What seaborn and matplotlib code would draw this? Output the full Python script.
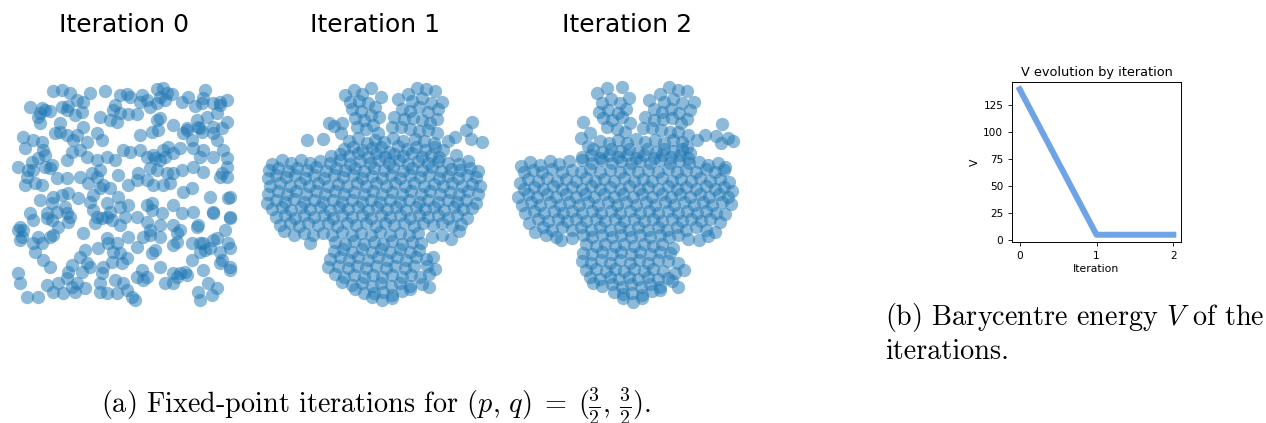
import matplotlib
matplotlib.use("Agg")
import matplotlib.pyplot as plt
import seaborn as sns
import pandas as pd

# ---------------- data (in crop pixel units) ----------------
iteration_titles = ["Iteration 0", "Iteration 1", "Iteration 2"]

it0_pts = [
(160,62),(185,60),(210,70),(315,62),(360,75),(380,72),(425,75),(470,58),(490,55),(500,70),(515,72),(565,80),(615,60),(660,95),(680,90),
(90,112),(125,115),(150,122),(185,112),(205,108),(250,95),(270,70),(300,140),(340,120),(360,130),(385,132),(410,132),(420,95),(440,90),(470,100),(495,90),(545,95),(585,108),(605,100),(640,100),(660,105),(115,140),(120,160),(180,160),(225,135),(245,125),(330,150),(350,155),(480,145),(455,185),(520,165),(560,175),(590,150),(600,175),(620,140),(650,130),(680,155),
(70,200),(75,235),(100,210),(125,215),(130,240),(165,190),(200,195),(230,195),(260,215),(290,190),(305,210),(420,195),(475,180),(560,180),(575,210),(605,185),(640,190),(650,210),(670,240),(610,240),(580,235),(540,235),(505,230),
(55,290),(95,275),(100,300),(135,290),(150,295),(155,285),(200,270),(215,245),(240,240),(260,260),(290,270),(320,260),(345,270),(370,240),(390,245),(420,240),(440,260),(460,255),(480,270),(495,260),(520,250),(600,260),(640,260),(680,265),(680,290),(660,320),(450,295),(470,300),(500,310),(520,310),(545,300),(580,290),(610,305),(665,310),
(75,345),(80,320),(105,340),(125,345),(170,325),(200,325),(240,320),(265,340),(290,320),(310,345),(330,355),(355,315),(385,345),(410,330),(440,330),(460,345),(490,345),(510,340),(550,365),(575,355),(415,310),
(120,390),(155,400),(160,380),(185,375),(205,370),(235,385),(270,395),(280,375),(300,355),(320,400),(355,380),(360,410),(385,405),(440,405),(455,400),(485,430),(520,405),(545,430),(580,425),(630,380),(685,385),(640,425),(690,440),(170,425),(195,410),
(60,470),(70,480),(90,430),(100,450),(140,445),(155,450),(175,470),(200,430),(210,440),(250,490),(285,460),(305,445),(320,440),(335,450),(360,465),(375,440),(410,440),(440,455),(450,480),(480,465),(530,490),(540,480),(595,465),(640,430),(675,480),(690,445),
(60,510),(100,520),(105,545),(125,520),(160,495),(150,500),(255,540),(295,535),(320,505),(350,520),(360,550),(385,500),(410,530),(430,500),(455,550),(465,540),(520,525),(530,515),(575,520),(600,520),(615,540),(630,535),(650,505),(685,520),(690,535),
(130,570),(150,590),(205,605),(215,585),(245,605),(270,590),(305,610),(335,575),(365,580),(380,565),(410,620),(440,620),(480,590),(520,610),(540,610),(560,615),(575,570),(610,600),(665,570),(690,590),(55,610),
(60,640),(80,680),(115,680),(140,645),(160,665),(190,670),(200,625),(215,650),(225,665),(255,655),(300,665),(320,670),(345,630),(370,640),(380,660),(395,680),(405,690),(350,670),(430,630),(495,640),(520,640),(530,620),(595,665),(600,690),(625,640),(635,675),(650,655),(690,600),
(120,130),(135,120),(200,120),(230,90),(390,80),(480,80),(610,85),(640,170),(665,175),(680,320),(690,380),(55,480),(65,500),(140,430),(205,455),(330,425),(455,420),(450,495),(480,500),(520,465),(590,470),(610,520),(640,510),(660,545),(600,545),
(275,310),(300,300),(135,255),(115,265),(85,300),(280,420),(290,440),(325,520),(340,545),(425,600),(555,605),(660,580),(175,640),(230,640),(300,640),(310,590),(240,560),(260,580),(115,500),(465,265),(490,240),(550,190),(595,170),(470,150),(450,110),(345,105),(180,185),(220,210),(250,170),
]

it1_pts = [
(270,75),(296,60),(322,72),(347,55),(378,80),(285,95),(312,92),(338,100),(360,112),(290,118),(318,122),(348,135),(372,140),(300,145),(328,150),(355,165),(305,170),(332,178),(368,188),(262,160),(238,168),
(430,88),(458,72),(487,55),(512,58),(540,63),(560,95),(470,92),(500,85),(528,98),(548,118),(440,118),(465,122),(492,112),(520,126),(545,148),(418,142),(446,148),(474,145),(500,150),(526,160),(412,170),(438,172),(466,178),(492,182),(520,180),(545,188),
(650,155),(632,180),(648,208),(680,215),(600,200),(578,212),(603,255),
(155,210),(205,208),(222,160),(258,190),
(282,212),(308,205),(335,218),(360,210),(388,215),(415,205),(445,212),(480,208),(508,212),(538,220),
(268,238),(295,232),(322,240),(350,235),(378,232),(402,245),(428,228),(455,238),(482,232),(510,240),(540,232),(565,240),
(228,258),(255,252),(282,258),(310,250),(338,260),(362,250),(390,262),(418,252),(445,258),(472,250),(500,262),(528,255),(552,262),
(52,282),(80,270),(108,279),(138,271),(166,280),(196,272),(226,278),(256,270),(286,281),(314,272),(344,280),(372,271),(402,279),(432,270),(460,281),(490,273),(518,280),(548,272),(580,278),(612,283),(640,274),
(42,300),(70,294),(98,302),(126,293),(156,300),(184,292),(212,303),(242,295),(270,301),(300,293),(328,302),(358,294),(386,300),(414,292),(444,302),(472,295),(500,300),(530,292),(558,303),(588,296),(616,301),(644,294),(668,304),
(38,324),(64,316),(92,322),(120,314),(150,323),(178,316),(206,324),(236,316),(264,322),(294,315),(322,324),(350,317),(380,323),(408,315),(436,324),(466,316),(494,322),(522,315),(552,324),(580,317),(608,323),(636,315),(662,322),
(46,348),(76,340),(104,347),(134,339),(162,347),(190,340),(220,348),(248,341),(276,348),(306,340),(334,347),(364,339),(392,348),(420,340),(450,347),(478,340),(506,348),(536,341),(564,347),(592,340),(622,348),(650,341),(676,349),
(40,372),(68,364),(96,372),(124,364),(154,371),(182,364),(210,372),(240,364),(268,372),(296,365),(326,372),(354,364),(382,372),(412,365),(440,372),(468,364),(498,371),(526,364),(554,372),(584,365),(612,372),(640,364),(668,372),
(36,398),(62,390),(90,396),(118,388),(148,396),(176,390),(204,397),(234,389),(262,396),(290,390),(320,397),(348,389),(376,396),(406,390),(434,397),(462,389),(492,396),(520,390),(548,397),(578,389),(606,396),(634,390),(662,398),
(52,418),(80,412),(108,419),(138,411),(166,418),(194,412),(224,419),(252,411),(280,418),(310,412),(338,419),(366,411),(396,418),(424,412),(452,419),(482,411),(510,418),(538,412),(568,419),(596,411),(624,418),(652,414),
(62,442),(90,436),(120,443),(148,435),(176,442),(206,436),(234,443),(262,435),(292,442),(320,436),(348,443),(378,435),(406,442),(434,436),(464,443),(492,435),(520,442),(550,436),(578,443),(606,436),(636,444),
(74,466),(104,460),(132,467),(160,459),(190,466),(218,460),(246,467),(276,459),(304,466),(332,460),(362,467),(390,459),(418,466),(448,460),(476,467),(504,459),(534,466),(562,460),(590,467),(618,462),
(88,484),(118,494),(146,488),(174,496),(204,488),(232,494),(262,487),(290,494),(318,488),(348,494),(376,487),(404,494),(434,488),(462,494),(490,488),(530,502),(560,494),(588,506),(612,482),
(165,518),(240,516),(270,522),(298,514),(326,522),(356,515),(384,522),(412,514),(442,522),(470,515),(498,520),
(236,542),(264,538),(292,545),(320,538),(350,545),(378,538),(406,545),(436,538),(464,545),(492,540),
(226,568),(254,562),(282,569),(310,562),(340,569),(368,562),(396,569),(426,562),(454,569),(482,562),(512,566),(535,560),
(220,592),(248,588),(278,595),(306,588),(334,595),(364,588),(392,595),(420,588),(450,595),(478,588),(515,588),(540,598),
(240,612),(268,620),(296,614),(326,621),(354,614),(382,621),(412,614),(440,621),(468,614),(496,620),(522,612),
(262,636),(292,645),(320,640),(350,648),(378,640),(408,648),(436,640),(464,648),(500,642),(522,650),
(300,658),(328,668),(356,670),(384,666),(412,676),(440,662),(466,656),
(380,690),(410,684),(350,680),
]

it2_pts = [
(275,70),(305,55),(350,52),(372,85),(290,100),(318,88),(345,98),(282,125),(310,120),(338,128),(362,118),(295,145),(322,150),(350,142),(375,160),(306,172),(335,176),(360,185),(235,155),(228,205),(255,190),(248,228),
(432,90),(465,72),(492,52),(518,60),(545,62),(568,95),(478,95),(505,88),(530,100),(555,120),(448,118),(470,125),(498,118),(522,130),(546,148),(420,142),(446,150),(474,148),(502,145),(528,160),(415,175),(440,175),(468,180),(495,185),(520,185),(548,195),(545,230),
(650,162),(600,195),(575,210),(632,198),(648,218),(685,212),(668,205),
(285,212),(312,218),(338,210),(365,218),(392,208),(420,215),(450,210),(478,218),(505,210),(530,215),
(265,238),(292,245),(318,236),(345,244),(372,236),(398,246),(425,238),(452,246),(478,236),(505,244),(532,238),(555,250),
(232,262),(258,256),(285,264),(312,256),(338,262),(365,256),(392,264),(418,256),(446,264),(472,256),(498,262),(525,256),(550,264),
(48,288),(76,276),(104,284),(134,272),(162,281),(192,273),(232,270),(262,279),(290,271),(320,280),(348,272),(378,280),(406,272),(436,280),(464,271),(494,279),(522,272),(552,280),(582,276),(610,284),(640,278),(660,292),
(56,306),(84,299),(112,306),(142,298),(170,306),(200,299),(228,306),(256,298),(286,306),(314,299),(344,306),(372,298),(400,306),(430,299),(458,306),(488,298),(516,306),(544,299),(574,306),(602,298),(630,306),(658,300),
(44,338),(70,326),(98,333),(126,325),(156,333),(184,326),(212,333),(242,325),(270,333),(298,326),(328,333),(356,325),(386,333),(414,326),(442,333),(472,325),(500,333),(528,326),(558,333),(586,325),(614,333),(644,326),(672,336),
(58,356),(86,350),(114,357),(144,349),(172,356),(200,350),(230,357),(258,349),(286,356),(316,350),(344,357),(372,349),(402,356),(430,350),(458,357),(488,349),(516,356),(544,350),(574,357),(602,349),(630,356),(658,350),(680,362),
(40,380),(68,373),(96,380),(126,372),(154,380),(182,373),(212,380),(240,372),(268,380),(298,373),(326,380),(354,372),(384,380),(412,373),(440,380),(470,372),(498,380),(526,373),(556,380),(584,372),(612,380),(642,373),(668,382),
(50,404),(78,397),(106,404),(136,396),(164,404),(192,397),(222,404),(250,396),(278,404),(308,397),(336,404),(364,396),(394,404),(422,397),(450,404),(480,396),(508,404),(536,397),(566,404),(594,396),(622,404),(652,397),(678,402),
(60,430),(88,423),(116,430),(146,422),(174,430),(202,423),(232,430),(260,422),(288,430),(318,423),(346,430),(374,422),(404,430),(432,423),(460,430),(490,422),(518,430),(546,423),(576,430),(604,422),(632,430),(660,432),
(72,458),(100,447),(128,454),(158,446),(186,454),(214,447),(244,454),(272,446),(300,454),(330,447),(358,454),(386,446),(416,454),(444,447),(472,454),(502,446),(530,454),(558,447),(588,454),(616,447),(644,456),
(90,486),(114,472),(142,479),(172,471),(200,479),(228,472),(258,479),(286,471),(314,479),(344,472),(372,479),(400,471),(430,479),(458,472),(486,479),(516,471),(544,479),(572,472),(602,479),(630,485),
(122,494),(152,500),(168,510),(200,505),(234,496),(262,502),(292,495),(320,502),(348,495),(378,502),(406,495),(434,502),(464,495),(492,500),(520,496),(550,506),(582,510),(608,498),
(244,522),(272,528),(300,521),(330,528),(358,521),(386,528),(416,521),(444,528),(472,521),(505,535),
(234,548),(262,552),(292,546),(320,553),(348,546),(378,553),(406,546),(434,553),(464,546),(494,550),
(230,572),(258,578),(288,571),(316,578),(344,571),(374,578),(402,571),(430,578),(460,571),(490,574),(518,580),
(244,600),(272,596),(302,603),(330,596),(358,603),(388,596),(416,603),(444,596),(474,603),(510,610),(538,600),
(256,622),(286,628),(314,622),(342,628),(372,622),(400,628),(428,622),(458,628),(488,624),
(264,640),(292,648),(322,642),(350,650),(378,642),(408,650),(436,642),(466,650),(500,634),(520,652),
(326,666),(354,672),(382,668),(412,674),(440,664),(464,660),
(385,695),(412,684),(355,684),
]

iterations = [0, 1, 2]
V_values = [140, 5, 5]
y_ticks = [0, 25, 50, 75, 100, 125]

caption_a = r"(a) Fixed-point iterations for $(p,\, q) \;=\; (\frac{3}{2},\, \frac{3}{2})$."
caption_b1 = r"(b) Barycentre energy $V$ of the"
caption_b2 = "iterations."

# ---------------- figure ----------------
plt.rcParams["mathtext.fontset"] = "cm"
plt.rcParams["axes.unicode_minus"] = False
W, H = 1266, 423
fig = plt.figure(figsize=(W / 100, H / 100), dpi=100)
fig.patch.set_facecolor("white")

def px_axes(left, top, w, h):
    return fig.add_axes([left / W, 1 - (top + h) / H, w / W, h / H])

panel_boxes = [(0, 70, 250, 750), (255, 70, 245, 735), (505, 70, 245, 735)]
all_pts = [it0_pts, it1_pts, it2_pts]
title_x = [124, 375, 627]

for pts, (l, t, size, lim), title, tx in zip(all_pts, panel_boxes, iteration_titles, title_x):
    ax = px_axes(l, t, size, size)
    df = pd.DataFrame(pts, columns=["x", "y"])
    sns.scatterplot(data=df, x="x", y="y", ax=ax, color="#1f77b4", alpha=0.5,
                    s=92, linewidth=0, legend=False)
    ax.set_xlim(0, lim)
    ax.set_ylim(lim, 0)
    ax.set_axis_off()
    fig.text(tx / W, 1 - 25 / H, title, ha="center", va="center",
             fontsize=18, family="DejaVu Sans", color="black")

# V evolution
axv = px_axes(1012, 82, 169, 160)
dfv = pd.DataFrame({"Iteration": iterations, "V": V_values})
sns.lineplot(data=dfv, x="Iteration", y="V", ax=axv, color="#6fa3e8", linewidth=4.3)
axv.set_xticks(iterations)
axv.set_yticks(y_ticks)
axv.tick_params(labelsize=7.6, length=2.8, width=0.6)
axv.set_title("V evolution by iteration", fontsize=9.3, pad=4)
axv.set_xlabel("Iteration", fontsize=7.8, labelpad=2)
axv.set_ylabel("V", fontsize=7.8, labelpad=2)
for sp in axv.spines.values():
    sp.set_linewidth(0.7)

# captions
fig.text(376 / W, 1 - 406 / H, caption_a, ha="center", va="center",
         fontsize=20.3, family="cmr10")
fig.text(885 / W, 1 - 317 / H, caption_b1, ha="left", va="center",
         fontsize=20.3, family="cmr10")
fig.text(885 / W, 1 - 352 / H, caption_b2, ha="left", va="center",
         fontsize=20.3, family="cmr10")

fig.savefig("out.png", dpi=100, facecolor="white")
